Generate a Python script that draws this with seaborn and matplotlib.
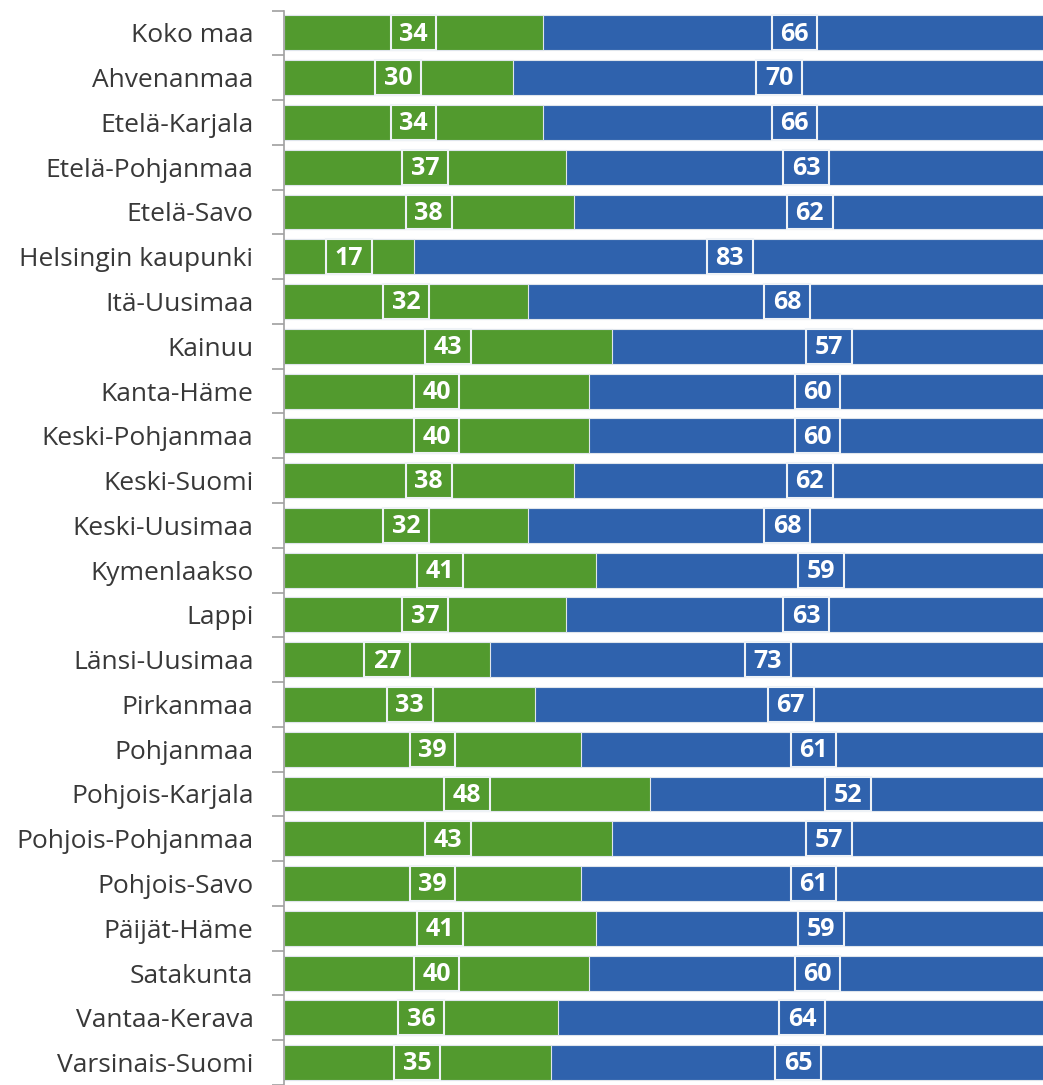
import numpy as np
import pandas as pd
import matplotlib.pyplot as plt
import seaborn as sns

# Data
regions = ['Koko maa', 'Ahvenanmaa', 'Etelä-Karjala', 'Etelä-Pohjanmaa', 'Etelä-Savo',
           'Helsingin kaupunki', 'Itä-Uusimaa', 'Kainuu', 'Kanta-Häme', 'Keski-Pohjanmaa',
           'Keski-Suomi', 'Keski-Uusimaa', 'Kymenlaakso', 'Lappi', 'Länsi-Uusimaa',
           'Pirkanmaa', 'Pohjanmaa', 'Pohjois-Karjala', 'Pohjois-Pohjanmaa', 'Pohjois-Savo',
           'Päijät-Häme', 'Satakunta', 'Vantaa-Kerava', 'Varsinais-Suomi']
green_vals = [34, 30, 34, 37, 38, 17, 32, 43, 40, 40, 38, 32, 41, 37, 27, 33, 39, 48, 43, 39, 41, 40, 36, 35]
blue_vals = [66, 70, 66, 63, 62, 83, 68, 57, 60, 60, 62, 68, 59, 63, 73, 67, 61, 52, 57, 61, 59, 60, 64, 65]

green = '#529a2e'
blue = '#2f62ad'
edge = '#dfe5ec'
bar_h = 0.78
box_w = 6.0

df = pd.DataFrame({'region': regions, 'green': green_vals, 'blue': blue_vals})
df['total'] = df['green'] + df['blue']

sns.set_style('white')
plt.rcParams['font.family'] = ['Open Sans', 'DejaVu Sans']

fig = plt.figure(figsize=(10.43, 10.85), dpi=100)
ax = fig.add_axes([284 / 1043, 0, 762 / 1043, (1085 - 10.5) / 1085])

# stacked bars: blue total underneath, green on top
sns.barplot(data=df, x='total', y='region', color=blue, orient='h', width=bar_h,
            edgecolor=edge, linewidth=0.8, ax=ax, saturation=1)
sns.barplot(data=df, x='green', y='region', color=green, orient='h', width=bar_h,
            edgecolor=edge, linewidth=0.8, ax=ax, saturation=1)

# value labels in outlined boxes
ypos = np.arange(len(df))
for vals, starts, col in [(df['green'], 0, green), (df['blue'], df['green'], blue)]:
    centers = starts + vals / 2
    ax.barh(ypos, box_w, left=centers - box_w / 2, height=bar_h, color=col,
            edgecolor='#eef2f6', linewidth=1.5, zorder=3)
    for y, c, v in zip(ypos, centers, vals):
        ax.text(c, y + 0.03, f'{v}', ha='center', va='center', color='white',
                fontsize=18, fontweight='bold', zorder=4)

ax.set_xlim(0, 100)
ax.set_ylim(-0.5 + (1085 - 10.5) / 45, -0.5)
ax.set_xlabel('')
ax.set_ylabel('')
ax.set_xticks([])

for s in ['top', 'right', 'bottom']:
    ax.spines[s].set_visible(False)
ax.spines['left'].set_color('#a0a0a0')
ax.spines['left'].set_linewidth(1.2)

ax.tick_params(axis='y', which='major', length=0, pad=22, labelsize=19, labelcolor='#383838')
ax.set_yticks(np.arange(len(regions) + 1) - 0.5, minor=True)
ax.tick_params(axis='y', which='minor', length=9, color='#a0a0a0', width=1.2, left=True)

fig.savefig('out.png', dpi=100)
plt.close()
